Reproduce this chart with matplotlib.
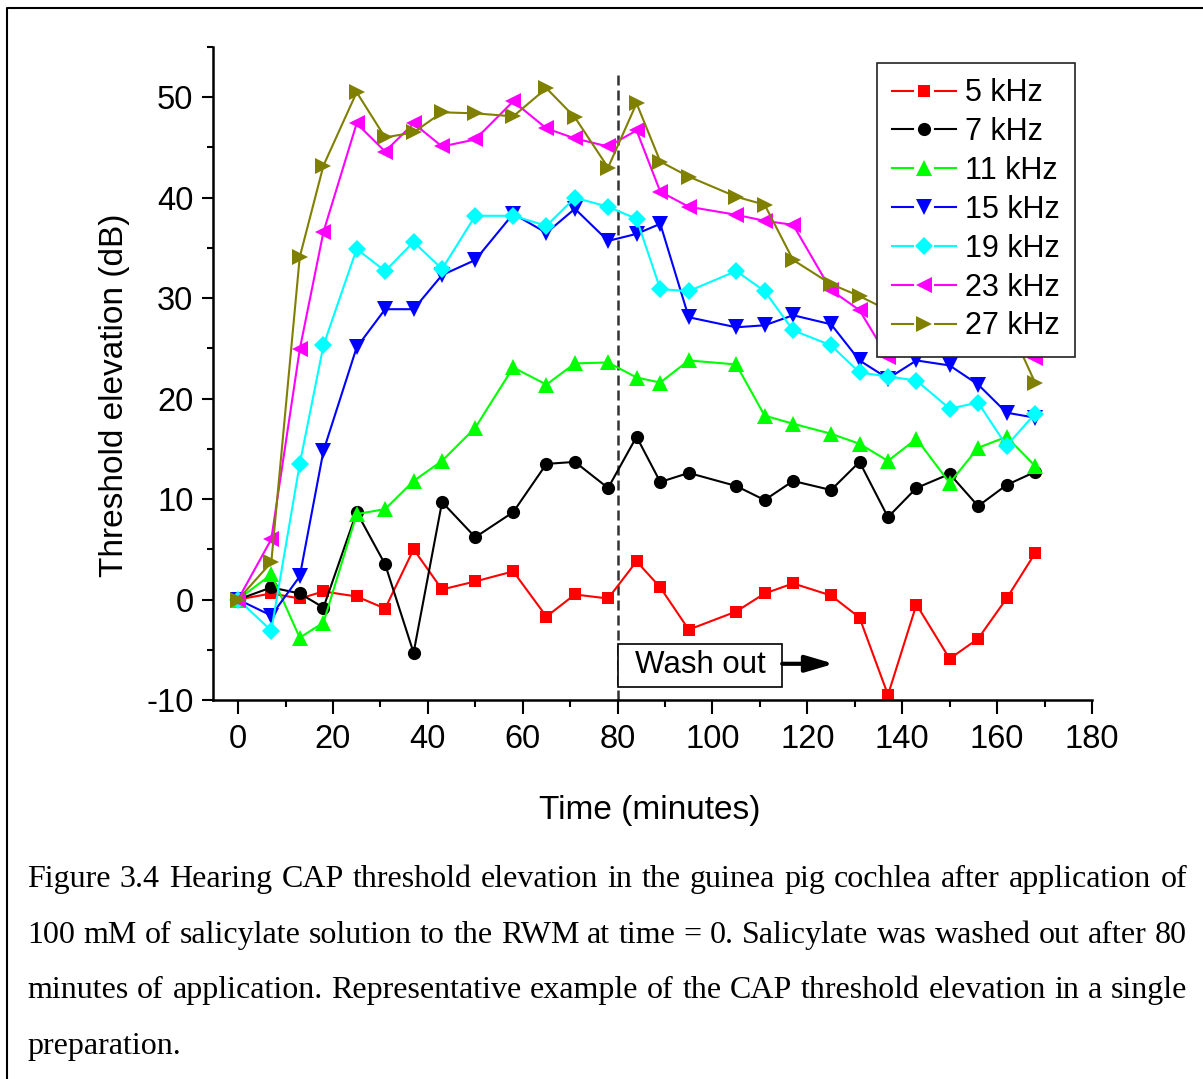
import numpy as np
import matplotlib
matplotlib.use("Agg")
import matplotlib.pyplot as plt
from matplotlib.lines import Line2D
from matplotlib.patches import Rectangle
from matplotlib.legend_handler import HandlerLine2DCompound
from matplotlib.ticker import MultipleLocator

plt.rcParams['font.family'] = ['Liberation Sans', 'DejaVu Sans']
plt.rcParams['axes.unicode_minus'] = False

# time points (minutes)
t = [0, 7, 13, 18, 25, 31, 37, 43, 50, 58, 65, 71, 78, 84, 89, 95, 105, 111,
     117, 125, 131, 137, 143, 150, 156, 162, 168]

# threshold elevation (dB) per frequency
khz5 = [0, 0.6, 0.1, 0.8, 0.3, -0.9, 5.0, 1.0, 1.8, 2.8, -1.7, 0.5, 0.1, 3.8, 1.2,
        -3.0, -1.2, 0.6, 1.6, 0.4, -1.8, -9.5, -0.5, -5.9, -3.9, 0.1, 4.6]
khz7 = [0, 1.2, 0.6, -0.8, 8.7, 3.5, -5.3, 9.7, 6.2, 8.7, 13.5, 13.7, 11.1, 16.2,
        11.7, 12.6, 11.3, 9.9, 11.8, 10.9, 13.7, 8.2, 11.1, 12.5, 9.3, 11.4, 12.7]
khz11 = [0, 2.5, -3.8, -2.3, 8.5, 9.0, 11.8, 13.8, 17.1, 23.1, 21.4, 23.5, 23.6,
         22.1, 21.6, 23.8, 23.4, 18.3, 17.5, 16.5, 15.5, 13.8, 16.0, 11.6, 15.1,
         16.2, 13.3]
khz15 = [0, -1.6, 2.3, 14.8, 25.1, 28.9, 28.9, 32.3, 33.8, 38.4, 36.5, 38.9, 35.7,
         36.4, 37.4, 28.1, 27.1, 27.3, 28.3, 27.4, 23.8, 22.0, 23.8, 23.3, 21.4,
         18.6, 18.1]
khz19 = [0, -3.1, 13.5, 25.3, 34.9, 32.7, 35.6, 32.9, 38.2, 38.2, 37.2, 40.0, 39.1,
         37.9, 30.9, 30.7, 32.7, 30.7, 26.8, 25.3, 22.6, 22.2, 21.8, 19.0, 19.6,
         15.3, 18.5]
khz23 = [0, 6.0, 24.9, 36.6, 47.4, 44.6, 47.4, 45.1, 45.8, 49.6, 46.9, 45.9, 45.1,
         46.7, 40.6, 39.1, 38.3, 37.7, 37.3, 30.8, 28.8, 24.1, 25.0, 25.5, 25.0,
         24.8, 24.0]
khz27 = [0, 3.7, 34.1, 43.2, 50.5, 46.0, 46.5, 48.5, 48.4, 48.1, 50.9, 48.0, 43.0,
         49.4, 43.6, 42.1, 40.1, 39.3, 33.8, 31.4, 30.2, 28.8, 28.5, 28.0, 28.3,
         27.8, 21.6]

labels = ['5 kHz', '7 kHz', '11 kHz', '15 kHz', '19 kHz', '23 kHz', '27 kHz']
colors = ['#FF0000', '#000000', '#00FF00', '#0000FF', '#00FFFF', '#FF00FF', '#808000']
markers = ['s', 'o', '^', 'v', 'D', '<', '>']
msizes = [8.5, 9.5, 11, 11, 9.5, 11, 11]
series = [khz5, khz7, khz11, khz15, khz19, khz23, khz27]

caption = ["Figure 3.4 Hearing CAP threshold elevation in the guinea pig cochlea after application of",
           "100 mM of salicylate solution to the RWM at time = 0. Salicylate was washed out after 80",
           "minutes of application. Representative example of the CAP threshold elevation in a single",
           "preparation."]


# Origin style legend handle: line - gap - marker - gap - line
class GapHandler(HandlerLine2DCompound):
    def create_artists(self, legend, orig_handle, xdescent, ydescent, width,
                       height, fontsize, trans):
        line, mark = super().create_artists(legend, orig_handle, xdescent, ydescent,
                                            width, height, fontsize, trans)
        x = line.get_xdata()
        y = line.get_ydata()
        mid = (x[0] + x[-1]) / 2
        g = 0.37 * fontsize
        line.set_data([x[0], mid - g, np.nan, mid + g, x[-1]], [y[0]] * 5)
        return [line, mark]


W, H = 1203, 1079
fig = plt.figure(figsize=(W / 100, H / 100), dpi=100)
ax = fig.add_axes([0.177, 0.3513, 0.7307, 0.6051])

handles = []
for ys, lab, c, m, ms in zip(series, labels, colors, markers, msizes):
    h, = ax.plot(t, ys, color=c, marker=m, ms=ms, mew=0, lw=1.5, label=lab)
    handles.append(h)

# wash out marker
ax.plot([80, 80], [-10, 52.2], color='#333333', lw=1.8, dashes=(4, 2), zorder=1)
ax.add_patch(Rectangle((80, -8.73), 34.7, 4.29, fc='white', ec='black', lw=1.2, zorder=5))
ax.text(97.35, -6.55, 'Wash out', fontsize=22.5, ha='center', va='center', zorder=6)
ax.annotate('', xy=(125.6, -6.4), xytext=(114.7, -6.4),
            arrowprops=dict(arrowstyle='-|>,head_length=1.7,head_width=0.5',
                            color='black', lw=3, shrinkA=0, shrinkB=0), zorder=6)

ax.set_xlim(-5.3, 180)
ax.set_ylim(-10, 55)
ax.xaxis.set_major_locator(MultipleLocator(20))
ax.xaxis.set_minor_locator(MultipleLocator(10))
ax.yaxis.set_major_locator(MultipleLocator(10))
ax.yaxis.set_minor_locator(MultipleLocator(5))
for s in ['top', 'right']:
    ax.spines[s].set_visible(False)
for s in ['left', 'bottom']:
    ax.spines[s].set_linewidth(1.8)
ax.tick_params(axis='x', which='major', length=10, width=1.5, pad=7, labelsize=23.5)
ax.tick_params(axis='x', which='minor', length=5, width=1.5)
ax.tick_params(axis='y', which='major', length=8, width=1.5, pad=6, labelsize=23.5)
ax.tick_params(axis='y', which='minor', length=4, width=1.5)

ax.set_xlabel('Time (minutes)', fontsize=24, va='center')
ax.xaxis.set_label_coords(0.497, -0.17)
ax.set_ylabel('Threshold elevation (dB)', fontsize=24, va='center')
ax.yaxis.set_label_coords(-0.112, 0.467)

leg = ax.legend(handles=handles, loc='upper right', bbox_to_anchor=(0.981, 0.9755),
                borderaxespad=0, fontsize=22, frameon=True, fancybox=False,
                edgecolor='#222222', framealpha=1, numpoints=1, handlelength=2.1,
                handletextpad=0.3, labelspacing=0.29, borderpad=0.5,
                handler_map={Line2D: GapHandler()})
leg.get_frame().set_linewidth(1.2)
leg.set_zorder(10)

# caption, justified between x=27 and x=1187 except the last line
r = fig.canvas.get_renderer()
x_left, x_right = 27.3, 1187
for i, line in enumerate(caption):
    yb = 1 - (887.3 + 55.5 * i) / H
    kw = dict(fontsize=23, family=['Liberation Serif', 'DejaVu Serif'],
              ha='left', va='baseline')
    if i == len(caption) - 1:
        fig.text(x_left / W, yb, line, **kw)
        continue
    words = line.split(' ')
    txts = [fig.text(0, yb, w, **kw) for w in words]
    widths = [tx.get_window_extent(r).width for tx in txts]
    gap = (x_right - x_left - sum(widths)) / (len(words) - 1)
    x = x_left
    for tx, wd in zip(txts, widths):
        tx.set_x(x / W)
        x += wd + gap

# page border (left and top)
fig.add_artist(Line2D([6.5 / W, 6.5 / W, 1], [0, 1 - 7.5 / H, 1 - 7.5 / H],
                      color='black', lw=1.5, transform=fig.transFigure))

fig.savefig('out.png', dpi=100)
